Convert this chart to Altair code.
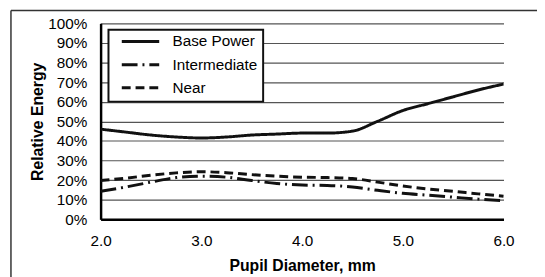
import altair as alt
import pandas as pd

diameters = [2.0, 2.25, 2.5, 2.75, 3.0, 3.25, 3.5, 3.75, 4.0, 4.25, 4.5, 4.75, 5.0, 5.25, 5.5, 5.75, 6.0]
base_power = [46.0, 44.5, 43.0, 42.0, 41.5, 42.0, 43.0, 43.5, 44.0, 44.0, 45.0, 50.0, 55.5, 59.0, 62.5, 66.0, 69.0]
intermediate = [14.3, 16.5, 19.0, 21.3, 22.0, 21.5, 19.8, 18.3, 17.5, 17.3, 16.5, 14.8, 13.3, 12.3, 11.3, 10.3, 9.5]
near = [19.8, 21.0, 22.5, 23.7, 24.3, 23.8, 22.8, 22.0, 21.5, 21.3, 20.8, 19.0, 17.0, 15.5, 14.3, 13.0, 11.8]

series_names = ["Base Power", "Intermediate", "Near"]
series_values = [base_power, intermediate, near]
y_ticks = [i / 10 for i in range(11)]
x_ticks = [2.0, 3.0, 4.0, 5.0, 6.0]

rows = []
for name, vals in zip(series_names, series_values):
    for d, v in zip(diameters, vals):
        rows.append({"Diameter": d, "Energy": v / 100.0, "Series": name})
df = pd.DataFrame(rows)

FONT = "Liberation Sans"

lines = alt.Chart(df).mark_line(strokeWidth=3, color="#111111", interpolate="monotone").encode(
    x=alt.X("Diameter:Q",
            scale=alt.Scale(domain=[2, 6], nice=False),
            axis=alt.Axis(values=x_ticks, format=".1f", title="Pupil Diameter, mm",
                          grid=False, ticks=False, tickSize=0, labelPadding=15,
                          labelFlush=False,
                          domainColor="black", domainWidth=2.5,
                          titlePadding=8)),
    y=alt.Y("Energy:Q",
            scale=alt.Scale(domain=[0, 1], nice=False),
            axis=alt.Axis(values=y_ticks, format=".0%", title="Relative Energy",
                          grid=True, gridColor="#555555", gridWidth=1.2,
                          ticks=False, tickSize=0, labelPadding=14,
                          labelFlush=False,
                          domainColor="black", domainWidth=2.5,
                          titlePadding=2)),
    strokeDash=alt.StrokeDash("Series:N",
                              scale=alt.Scale(domain=series_names,
                                              range=[[1, 0], [16, 5, 2, 5], [9, 5]]),
                              legend=alt.Legend(title=None, orient="none", legendX=8, legendY=6.5,
                                                symbolType="stroke", symbolSize=1444,
                                                symbolStrokeWidth=3, symbolStrokeColor="#111111",
                                                symbolOffset=7, labelOffset=12,
                                                clipHeight=14, rowPadding=7.5, padding=5,
                                                labelFontSize=15.5, labelFont=FONT,
                                                labelColor="black",
                                                fillColor="white", strokeColor="#111111")),
)

frame_df = pd.DataFrame({"k": [0]})
frame_top = alt.Chart(frame_df).mark_rule(color="#333333", strokeWidth=1.5).encode(
    x=alt.value(-91), x2=alt.value(460), y=alt.value(-13)
)
frame_left = alt.Chart(frame_df).mark_rule(color="#333333", strokeWidth=1.5).encode(
    x=alt.value(-91), y=alt.value(-13), y2=alt.value(300)
)

chart = alt.layer(frame_top, frame_left, lines).properties(
    width=409, height=199,
    autosize=alt.AutoSizeParams(type="none"),
    padding={"left": 94, "top": 13.5, "right": 34, "bottom": 56.5},
    background="white",
).configure_view(stroke=None).configure_axis(
    labelFont=FONT, labelFontSize=15.5, labelColor="black",
    titleFont=FONT, titleFontSize=16, titleFontWeight="bold", titleColor="black",
).configure_legend(strokeWidth=2)

chart.save("out.html", embed_options={"renderer": "svg", "actions": False})
